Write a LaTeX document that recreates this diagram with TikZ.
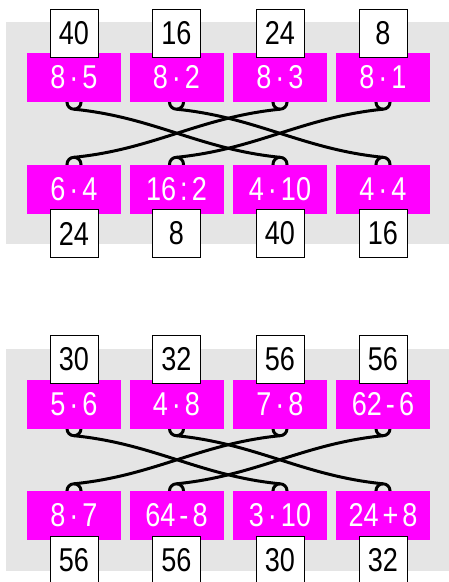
\documentclass[tikz,border=0pt]{standalone}
\usepackage{fontspec}
\setmainfont{Liberation Sans}[FakeStretch=0.82]
\usetikzlibrary{backgrounds}
\definecolor{termpink}{RGB}{255,0,255}
\newcommand{\tdot}{\kern4pt·\kern4pt}
\newcommand{\tsep}[1]{\kern4pt#1\kern4pt}
\begin{document}
\begin{tikzpicture}[x=1pt, y=-1pt, font=\fontsize{33}{33}\selectfont,
  term/.style={fill=termpink, text=white, minimum width=94pt, minimum height=49pt, inner sep=0pt},
  val/.style={draw, fill=white, line width=0.8pt, minimum size=48pt, inner sep=0pt},
  wire/.style={line width=3pt}]
\useasboundingbox (0,0) rectangle (448,582);
% first panel
\foreach \i/\x/\a/\b/\c/\d in {1/74/8\tdot5/40/6\tdot4/24, 2/176.5/8\tdot2/16/16\tsep{:}2/8,
  3/280/8\tdot3/24/4\tdot10/40, 4/383/8\tdot1/8/4\tdot4/16}{
  \node[term] (ta\i) at (\x,77.5) {\a};
  \node[val] (ua\i) at (\x,33) {\b};
  \node[term] (ba\i) at (\x,189) {\c};
  \node[val] (va\i) at (\x,233.5) {\d};
}
% second panel
\foreach \i/\x/\a/\b/\c/\d in {1/74/5\tdot6/30/8\tdot7/56, 2/176.5/4\tdot8/32/64\tsep{-}8/56,
  3/280/7\tdot8/56/3\tdot10/30, 4/383/62\tsep{-}6/56/24\tsep{+}8/32}{
  \node[term] (tb\i) at (\x,404) {\a};
  \node[val] (ub\i) at (\x,359.5) {\b};
  \node[term] (bb\i) at (\x,515.5) {\c};
  \node[val] (vb\i) at (\x,560) {\d};
}
\begin{scope}[on background layer]
\fill[gray!20] (6,22) rectangle (460,244);
\fill[gray!20] (6,348.5) rectangle (460,570.5);
\foreach \p in {a,b}{
  \foreach \s/\e in {1/3,2/4}{
    \draw[wire] (t\p\s.south) circle[radius=7];
    \draw[wire] (b\p\e.north) circle[radius=7];
    \draw[wire] ([yshift=-7pt]t\p\s.south) .. controls +(80,8) and +(-80,-8) .. ([yshift=7pt]b\p\e.north);
  }
  \foreach \s/\e in {3/1,4/2}{
    \draw[wire] (t\p\s.south) circle[radius=7];
    \draw[wire] (b\p\e.north) circle[radius=7];
    \draw[wire] ([yshift=-7pt]t\p\s.south) .. controls +(-80,8) and +(80,-8) .. ([yshift=7pt]b\p\e.north);
  }
}
\end{scope}
\end{tikzpicture}
\end{document}
